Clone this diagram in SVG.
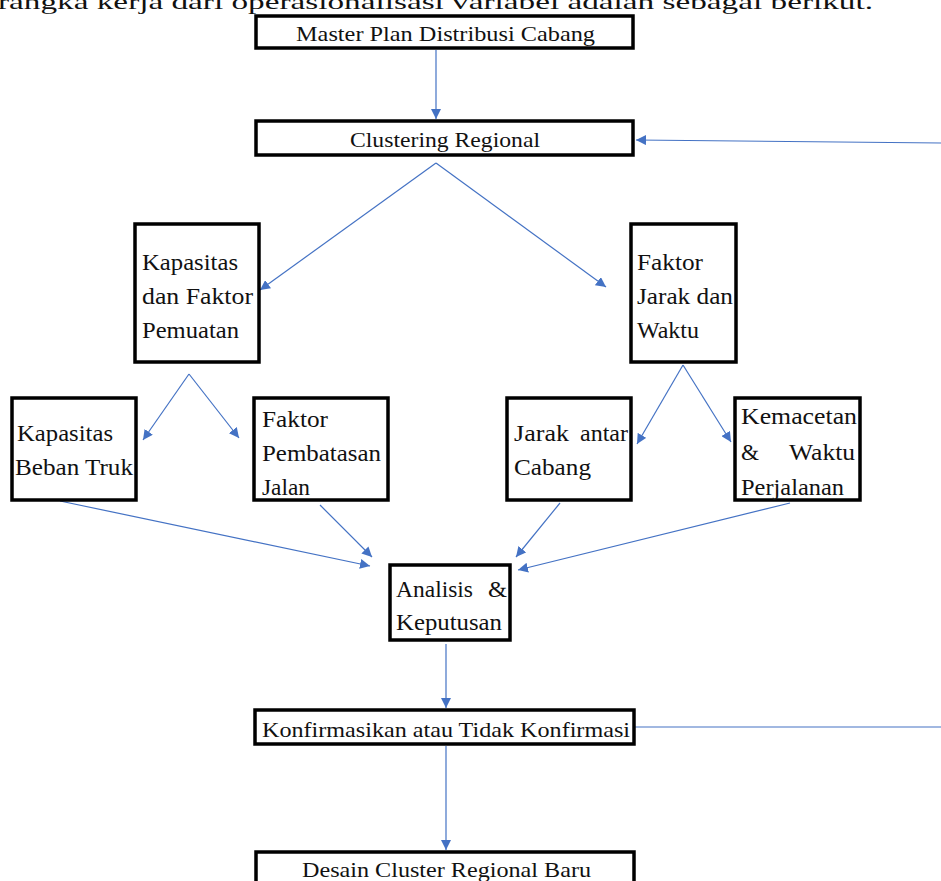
<svg xmlns="http://www.w3.org/2000/svg" width="941" height="881" viewBox="0 0 941 881">
<defs>
<style>
.box{fill:#fff;stroke:#000;stroke-width:3.5}
.t{font-family:"Times New Roman","Liberation Serif",Tinos,serif;font-size:22px;fill:#111}
.m{font-family:"Times New Roman","Liberation Serif",Tinos,serif;font-size:23px;fill:#111}
.r{text-anchor:end}
.c{stroke:#4472C4;stroke-width:1.2;fill:none}
</style>
<marker id="ah" viewBox="0 0 10 10" refX="10" refY="5" markerWidth="10" markerHeight="10" markerUnits="userSpaceOnUse" orient="auto">
<path d="M0,0 L10,5 L0,10 z" fill="#4472C4"/>
</marker>
</defs>
<rect width="941" height="881" fill="#fff"/>
<text class="t" x="-2" y="9" textLength="875" lengthAdjust="spacingAndGlyphs">rangka kerja dari operasionalisasi variabel adalah sebagai berikut.</text>
<g id="connectors">
<line class="c" x1="436" y1="50" x2="436" y2="119" marker-end="url(#ah)"/>
<line class="c" x1="941" y1="143" x2="636" y2="140" marker-end="url(#ah)"/>
<line class="c" x1="436" y1="163" x2="260" y2="290" marker-end="url(#ah)"/>
<line class="c" x1="436" y1="163" x2="606" y2="287" marker-end="url(#ah)"/>
<line class="c" x1="189" y1="374" x2="143" y2="440" marker-end="url(#ah)"/>
<line class="c" x1="189" y1="374" x2="239" y2="438" marker-end="url(#ah)"/>
<line class="c" x1="683" y1="365" x2="637" y2="444" marker-end="url(#ah)"/>
<line class="c" x1="683" y1="365" x2="731" y2="442" marker-end="url(#ah)"/>
<line class="c" x1="60" y1="501" x2="370" y2="566" marker-end="url(#ah)"/>
<line class="c" x1="320" y1="505" x2="372" y2="557" marker-end="url(#ah)"/>
<line class="c" x1="560" y1="503" x2="516" y2="557" marker-end="url(#ah)"/>
<line class="c" x1="790" y1="503" x2="518" y2="570" marker-end="url(#ah)"/>
<line class="c" x1="446" y1="644" x2="446" y2="708" marker-end="url(#ah)"/>
<line class="c" x1="634" y1="727" x2="941" y2="727"/>
<line class="c" x1="446" y1="746" x2="446" y2="850" marker-end="url(#ah)"/>
</g>
<g id="master-plan">
<rect class="box" x="256" y="16" width="377" height="32"/>
<text class="t" x="296" y="41" textLength="299" lengthAdjust="spacingAndGlyphs">Master Plan Distribusi Cabang</text>
</g>
<g id="clustering">
<rect class="box" x="256" y="121" width="377" height="34"/>
<text class="t" x="350" y="147" textLength="190" lengthAdjust="spacingAndGlyphs">Clustering Regional</text>
</g>
<g id="kapasitas-faktor">
<rect class="box" x="135" y="224" width="124" height="138"/>
<text class="m" x="142" y="270" textLength="96" lengthAdjust="spacingAndGlyphs">Kapasitas</text>
<text class="m" x="142" y="304" textLength="111" lengthAdjust="spacingAndGlyphs">dan Faktor</text>
<text class="m" x="142" y="338" textLength="97" lengthAdjust="spacingAndGlyphs">Pemuatan</text>
</g>
<g id="faktor-jarak">
<rect class="box" x="631" y="224" width="105" height="138"/>
<text class="m" x="637" y="270" textLength="66" lengthAdjust="spacingAndGlyphs">Faktor</text>
<text class="m" x="637" y="304" textLength="96" lengthAdjust="spacingAndGlyphs">Jarak dan</text>
<text class="m" x="637" y="338" textLength="62" lengthAdjust="spacingAndGlyphs">Waktu</text>
</g>
<g id="kapasitas-beban">
<rect class="box" x="12" y="398" width="124" height="102"/>
<text class="m" x="17" y="441" textLength="96" lengthAdjust="spacingAndGlyphs">Kapasitas</text>
<text class="m" x="15" y="475" textLength="118" lengthAdjust="spacingAndGlyphs">Beban Truk</text>
</g>
<g id="faktor-pembatasan">
<rect class="box" x="254" y="398" width="134" height="102"/>
<text class="m" x="262" y="427" textLength="66" lengthAdjust="spacingAndGlyphs">Faktor</text>
<text class="m" x="262" y="461" textLength="119" lengthAdjust="spacingAndGlyphs">Pembatasan</text>
<text class="m" x="262" y="495" textLength="48" lengthAdjust="spacingAndGlyphs">Jalan</text>
</g>
<g id="jarak-antar">
<rect class="box" x="507" y="398" width="124" height="102"/>
<text class="m" x="514" y="441" textLength="55" lengthAdjust="spacingAndGlyphs">Jarak</text>
<text class="m" x="580" y="441" textLength="48" lengthAdjust="spacingAndGlyphs">antar</text>
<text class="m" x="514" y="475" textLength="77" lengthAdjust="spacingAndGlyphs">Cabang</text>
</g>
<g id="kemacetan">
<rect class="box" x="735" y="398" width="125" height="102"/>
<text class="m" x="741" y="424" textLength="116" lengthAdjust="spacingAndGlyphs">Kemacetan</text>
<text class="m" x="741" y="460" textLength="18" lengthAdjust="spacingAndGlyphs">&amp;</text>
<text class="m" x="789" y="460" textLength="66" lengthAdjust="spacingAndGlyphs">Waktu</text>
<text class="m" x="741" y="495" textLength="103" lengthAdjust="spacingAndGlyphs">Perjalanan</text>
</g>
<g id="analisis">
<rect class="box" x="390" y="565" width="120" height="75"/>
<text class="m" x="396" y="597" textLength="77" lengthAdjust="spacingAndGlyphs">Analisis</text>
<text class="m" x="488" y="597" textLength="19" lengthAdjust="spacingAndGlyphs">&amp;</text>
<text class="m" x="396" y="630" textLength="106" lengthAdjust="spacingAndGlyphs">Keputusan</text>
</g>
<g id="konfirmasi">
<rect class="box" x="255" y="710" width="379" height="34"/>
<text class="t" x="262" y="737" textLength="368" lengthAdjust="spacingAndGlyphs">Konfirmasikan atau Tidak Konfirmasi</text>
</g>
<g id="desain">
<rect class="box" x="256" y="852" width="378" height="40"/>
<text class="t" x="302" y="877" textLength="289" lengthAdjust="spacingAndGlyphs">Desain Cluster Regional Baru</text>
</g>
</svg>
